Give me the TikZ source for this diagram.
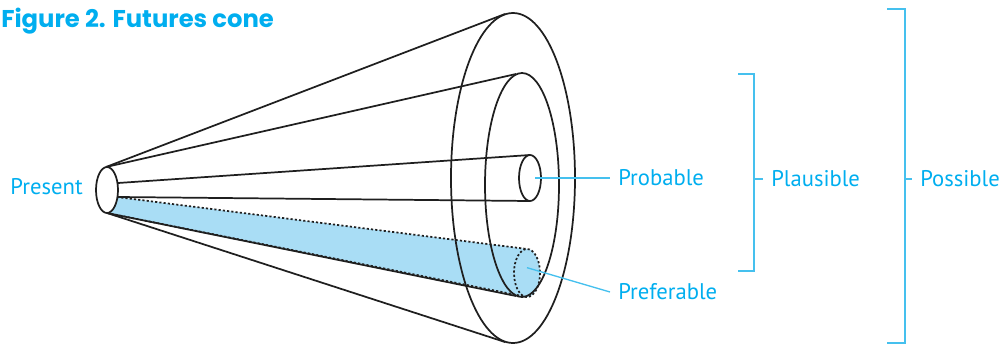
\documentclass[tikz,border=0pt]{standalone}
\usepackage{fontspec}
\setmainfont{PT Sans}
\newfontfamily\titlefont{Poppins}
\usepackage{xcolor}
\usepackage{tikz}
\definecolor{skyblue}{HTML}{00AEEF}
\definecolor{skyline}{HTML}{45C0EE}
\definecolor{bandfill}{HTML}{A9DDF5}

\begin{document}
\begin{tikzpicture}[
  x=0.75pt,y=-0.75pt,
  cone/.style={line width=1.3pt,black!88},
  dotline/.style={line width=1.3pt,black!88,dash pattern=on 1.6pt off 1.6pt},
  lead/.style={line width=1pt,skyline},
  bracket/.style={line width=1pt,skyline},
  tag/.style={font=\fontsize{17}{20}\selectfont,text=skyblue,anchor=west,inner xsep=6pt,inner ysep=0pt}
]
\useasboundingbox (0,0) rectangle (1007,347);
% title
\node[anchor=base west,inner sep=0pt,text=skyblue,font=\titlefont\bfseries\fontsize{18.2}{22}\selectfont] (title) at (1,27) {Figure 2. Futures cone};
% centres of the rings
\coordinate (pres) at (107,190);
\coordinate (poss) at (513,178);
\coordinate (plaus) at (522,185);
\coordinate (prob) at (530,178);
\coordinate (pref) at (527,273);
% preferable band
\fill[bandfill] (107,213) -- (117,197) -- (527,249) -- (527,297) -- cycle;
\fill[bandfill] (pref) ellipse [x radius=13,y radius=24];
% cone lines
\draw[cone] (106,167) -- (505,14);
\draw[cone] (106,167) -- (516,74);
\draw[cone] (118,183) -- (530,155);
\draw[cone] (118,197) -- (530,201);
\draw[cone] (107,213) -- (516,296);
\draw[cone] (107,213) -- (505,342);
\draw[dotline] (117,197) -- (527,249);
\draw[dotline] (107,213) -- (527,297);
% rings
\draw[cone] (poss) ellipse [x radius=62,y radius=165];
\draw[cone] (plaus) ellipse [x radius=37,y radius=112];
\draw[cone,fill=white] (prob) ellipse [x radius=11,y radius=23];
\draw[dotline] (pref) ellipse [x radius=13,y radius=24];
\draw[cone,fill=white] (pres) ellipse [x radius=11,y radius=23];
% labels
\node[tag,anchor=east] (present) at (91,187) {Present};
\node[tag] (probable) at (610,178) {Probable};
\node[tag] (preferable) at (610,292) {Preferable};
\node[tag] (plausible) at (763,179) {Plausible};
\node[tag] (possible) at (912,179) {Possible};
\draw[lead] ([xshift=4]prob) -- (probable.west);
\draw[lead] ([yshift=4]pref) -- (preferable.west);
% brackets
\draw[bracket] (738,74) -- (754,74) -- (754,271) -- (738,271);
\draw[bracket] (754,179) -- (plausible.west);
\draw[bracket] (887,9) -- (905,9) -- (905,343) -- (887,343);
\draw[bracket] (905,179) -- (possible.west);
\end{tikzpicture}
\end{document}
